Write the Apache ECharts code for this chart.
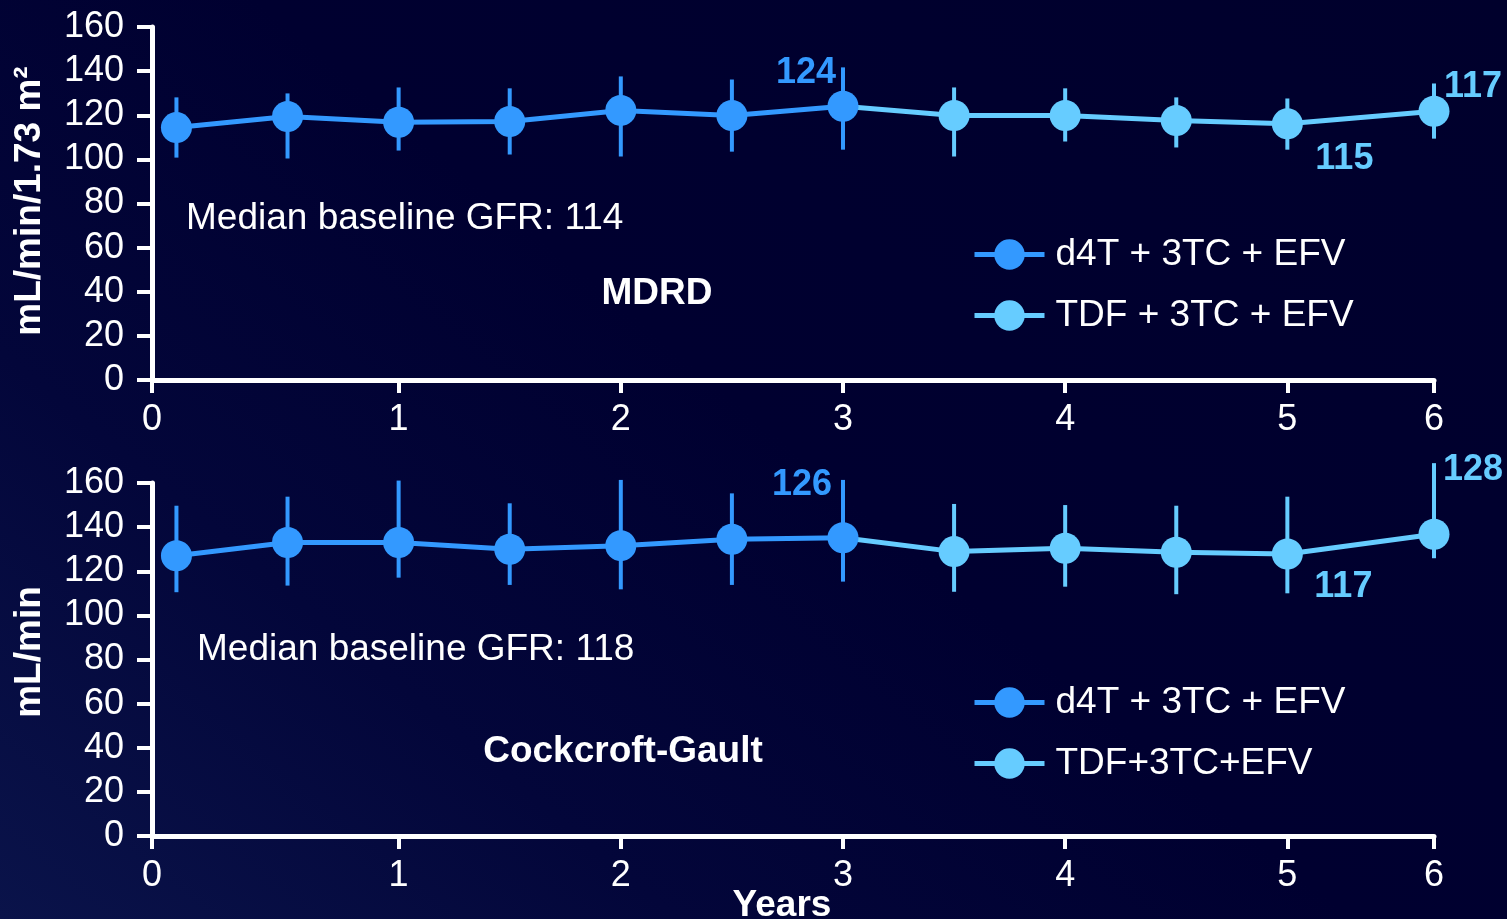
<!DOCTYPE html>
<html>
<head>
<meta charset="utf-8">
<script src="https://cdn.jsdelivr.net/npm/echarts@6/dist/echarts.min.js"></script>
<style>
  html, body { margin: 0; padding: 0; }
  body {
    width: 1507px; height: 919px; overflow: hidden;
    background: linear-gradient(40deg, #0a134a 0%, #03063a 26%, #000030 52%, #00002c 100%);
  }
  #chart { width: 1507px; height: 919px; }
</style>
</head>
<body>
<div id="chart"></div>
<script>
// positions of the visits on the drawn axis (the last visit sits at the "6" tick)
const visitPos = [0, 0.5, 1, 1.5, 2, 2.5, 3, 3.5, 4, 4.5, 5, 5.66]
const tickPos = [-0.11, 1, 2, 3, 4, 5, 5.66]
const tickLabels = ['0', '1', '2', '3', '4', '5', '6']
const switchIdx = 6 // d4T up to year 3, TDF afterwards

// MDRD, mL/min/1.73 m2
const mdrdMean = [114.4, 119.4, 116.8, 117.2, 122.2, 119.9, 124.1, 119.9, 119.9, 117.6, 116.1, 121.8]
const mdrdHigh = [128.1, 129.9, 132.6, 132.2, 137.6, 136.2, 141.7, 132.6, 132.2, 128.1, 127.6, 134.4]
const mdrdLow = [100.8, 100.4, 104.0, 102.2, 101.3, 103.5, 104.4, 101.3, 108.1, 105.4, 104.4, 109.4]
const mdrdCallouts = { 6: '124', 10: '115', 11: '117' }

// Cockcroft-Gault, mL/min
const cgMean = [127.0, 133.0, 133.0, 130.0, 131.6, 134.5, 135.2, 128.9, 130.4, 128.6, 127.8, 136.8]
const cgHigh = [149.7, 153.8, 161.1, 150.8, 161.4, 155.3, 161.4, 150.5, 150.0, 149.7, 153.8, 169.0]
const cgLow = [110.5, 113.5, 117.1, 113.8, 111.8, 113.8, 115.3, 110.7, 113.0, 109.6, 110.0, 125.9]
const cgCallouts = { 6: '126', 10: '117', 11: '128' }

const yTicks = [0, 20, 40, 60, 80, 100, 120, 140, 160]

const DARK = '#3399ff'
const LIGHT = '#66ccff'
const FONT = '"Liberation Sans", Arial, sans-serif'

// where the callout numbers sit relative to their point
const calloutOffset = [
    { 6: [-37, -33], 10: [57, 35], 11: [39, -24] },
    { 6: [-41, -53], 10: [56, 33], 11: [39, -64] }
]

function pointData(means, from, to, callouts, panel, color) {
    const out = []
    for (let i = from; i <= to; i++) {
        const item = { value: [visitPos[i], means[i]] }
        if (callouts[i]) {
            item.label = {
                show: true,
                position: 'inside',
                offset: calloutOffset[panel][i],
                formatter: callouts[i],
                color: color,
                fontSize: 36,
                fontWeight: 'bold',
                fontFamily: FONT
            }
        }
        out.push(item)
    }
    return out
}

function barData(low, high, from, to) {
    const out = []
    for (let i = from; i <= to; i++) out.push([visitPos[i], low[i], high[i]])
    return out
}

function errorBars(name, idx, data, color) {
    return {
        type: 'custom',
        name: name + ' sd',
        xAxisIndex: idx,
        yAxisIndex: idx,
        clip: false,
        z: 1,
        silent: true,
        data: data,
        encode: { x: 0, y: [1, 2] },
        renderItem: function (params, api) {
            const a = api.coord([api.value(0), api.value(1)])
            const b = api.coord([api.value(0), api.value(2)])
            return {
                type: 'line',
                shape: { x1: a[0], y1: a[1], x2: b[0], y2: b[1] },
                style: { stroke: color, lineWidth: 4 }
            }
        }
    }
}

function panelSeries(idx, means, low, high, callouts, d4tName, tdfName) {
    const last = means.length - 1
    const tdf = pointData(means, switchIdx, last, callouts, idx, LIGHT)
    // first TDF point only carries the connecting line
    tdf[0] = { value: tdf[0].value, symbol: 'none' }
    return [
        errorBars(d4tName, idx, barData(low, high, 0, switchIdx), DARK),
        errorBars(tdfName, idx, barData(low, high, switchIdx + 1, last), LIGHT),
        {
            type: 'line',
            name: tdfName,
            xAxisIndex: idx,
            yAxisIndex: idx,
            z: 2,
            symbol: 'circle',
            symbolSize: 31,
            clip: false,
            color: LIGHT,
            lineStyle: { width: 5, color: LIGHT },
            itemStyle: { color: LIGHT },
            data: tdf
        },
        {
            type: 'line',
            name: d4tName,
            xAxisIndex: idx,
            yAxisIndex: idx,
            z: 3,
            symbol: 'circle',
            symbolSize: 31,
            clip: false,
            color: DARK,
            lineStyle: { width: 5, color: DARK },
            itemStyle: { color: DARK },
            data: pointData(means, 0, switchIdx, callouts, idx, DARK)
        }
    ]
}

function tickLabel(value) {
    let best = 0
    tickPos.forEach((t, i) => { if (Math.abs(t - value) < Math.abs(tickPos[best] - value)) best = i })
    return tickLabels[best]
}

function xAxis(idx) {
    return {
        type: 'value',
        gridIndex: idx,
        min: tickPos[0],
        max: tickPos[tickPos.length - 1],
        axisLine: { show: true, onZero: false, lineStyle: { color: '#fff', width: 5 } },
        axisTick: { show: true, customValues: tickPos, length: 13, lineStyle: { color: '#fff', width: 4 } },
        axisLabel: {
            customValues: tickPos, formatter: tickLabel, margin: 22,
            color: '#fff', fontSize: 36, fontFamily: FONT
        },
        splitLine: { show: false }
    }
}

function yAxis(idx) {
    return {
        type: 'value',
        gridIndex: idx,
        min: yTicks[0],
        max: yTicks[yTicks.length - 1],
        interval: 20,
        axisLine: { show: true, onZero: false, lineStyle: { color: '#fff', width: 5 } },
        axisTick: { show: true, length: 15, lineStyle: { color: '#fff', width: 4 } },
        axisLabel: { margin: 28, color: '#fff', fontSize: 36, fontFamily: FONT },
        splitLine: { show: false }
    }
}

function legend(top, names) {
    return {
        orient: 'vertical',
        left: 967,
        top: top,
        itemWidth: 70,
        itemHeight: 38,
        itemGap: 24,
        selectedMode: false,
        data: names,
        lineStyle: { width: 5 },
        textStyle: { color: '#fff', fontSize: 37, fontFamily: FONT, padding: [0, 0, 0, 6] }
    }
}

function label(x, y, str, size, bold, align) {
    return {
        type: 'text',
        x: x,
        y: y,
        style: {
            text: str,
            fill: '#fff',
            font: (bold ? 'bold ' : '') + size + 'px ' + FONT,
            textAlign: align || 'left',
            textVerticalAlign: 'middle'
        }
    }
}

const yName0 = label(30, 201, 'mL/min/1.73 m²', 37, true, 'center')
yName0.rotation = Math.PI / 2
const yName1 = label(30, 652, 'mL/min', 37, true, 'center')
yName1.rotation = Math.PI / 2

const chart = echarts.init(document.getElementById('chart'))
chart.setOption({
    backgroundColor: 'transparent',
    animation: false,
    grid: [
        { left: 152, right: 73, top: 27, height: 353 },
        { left: 152, right: 73, top: 483, height: 353 }
    ],
    xAxis: [xAxis(0), xAxis(1)],
    yAxis: [yAxis(0), yAxis(1)],
    legend: [
        legend(231, ['d4T + 3TC + EFV', 'TDF + 3TC + EFV']),
        legend(679, ['d4T + 3TC + EFV ', 'TDF+3TC+EFV'])
    ],
    graphic: [
        label(186, 219, 'Median baseline GFR: 114', 37, false),
        label(657, 294, 'MDRD', 37, true, 'center'),
        label(197, 650, 'Median baseline GFR: 118', 37, false),
        label(623, 752, 'Cockcroft-Gault', 37, true, 'center'),
        label(782, 906, 'Years', 37, true, 'center'),
        yName0,
        yName1
    ],
    series: [].concat(
        panelSeries(0, mdrdMean, mdrdLow, mdrdHigh, mdrdCallouts, 'd4T + 3TC + EFV', 'TDF + 3TC + EFV'),
        panelSeries(1, cgMean, cgLow, cgHigh, cgCallouts, 'd4T + 3TC + EFV ', 'TDF+3TC+EFV')
    )
})
</script>
</body>
</html>
